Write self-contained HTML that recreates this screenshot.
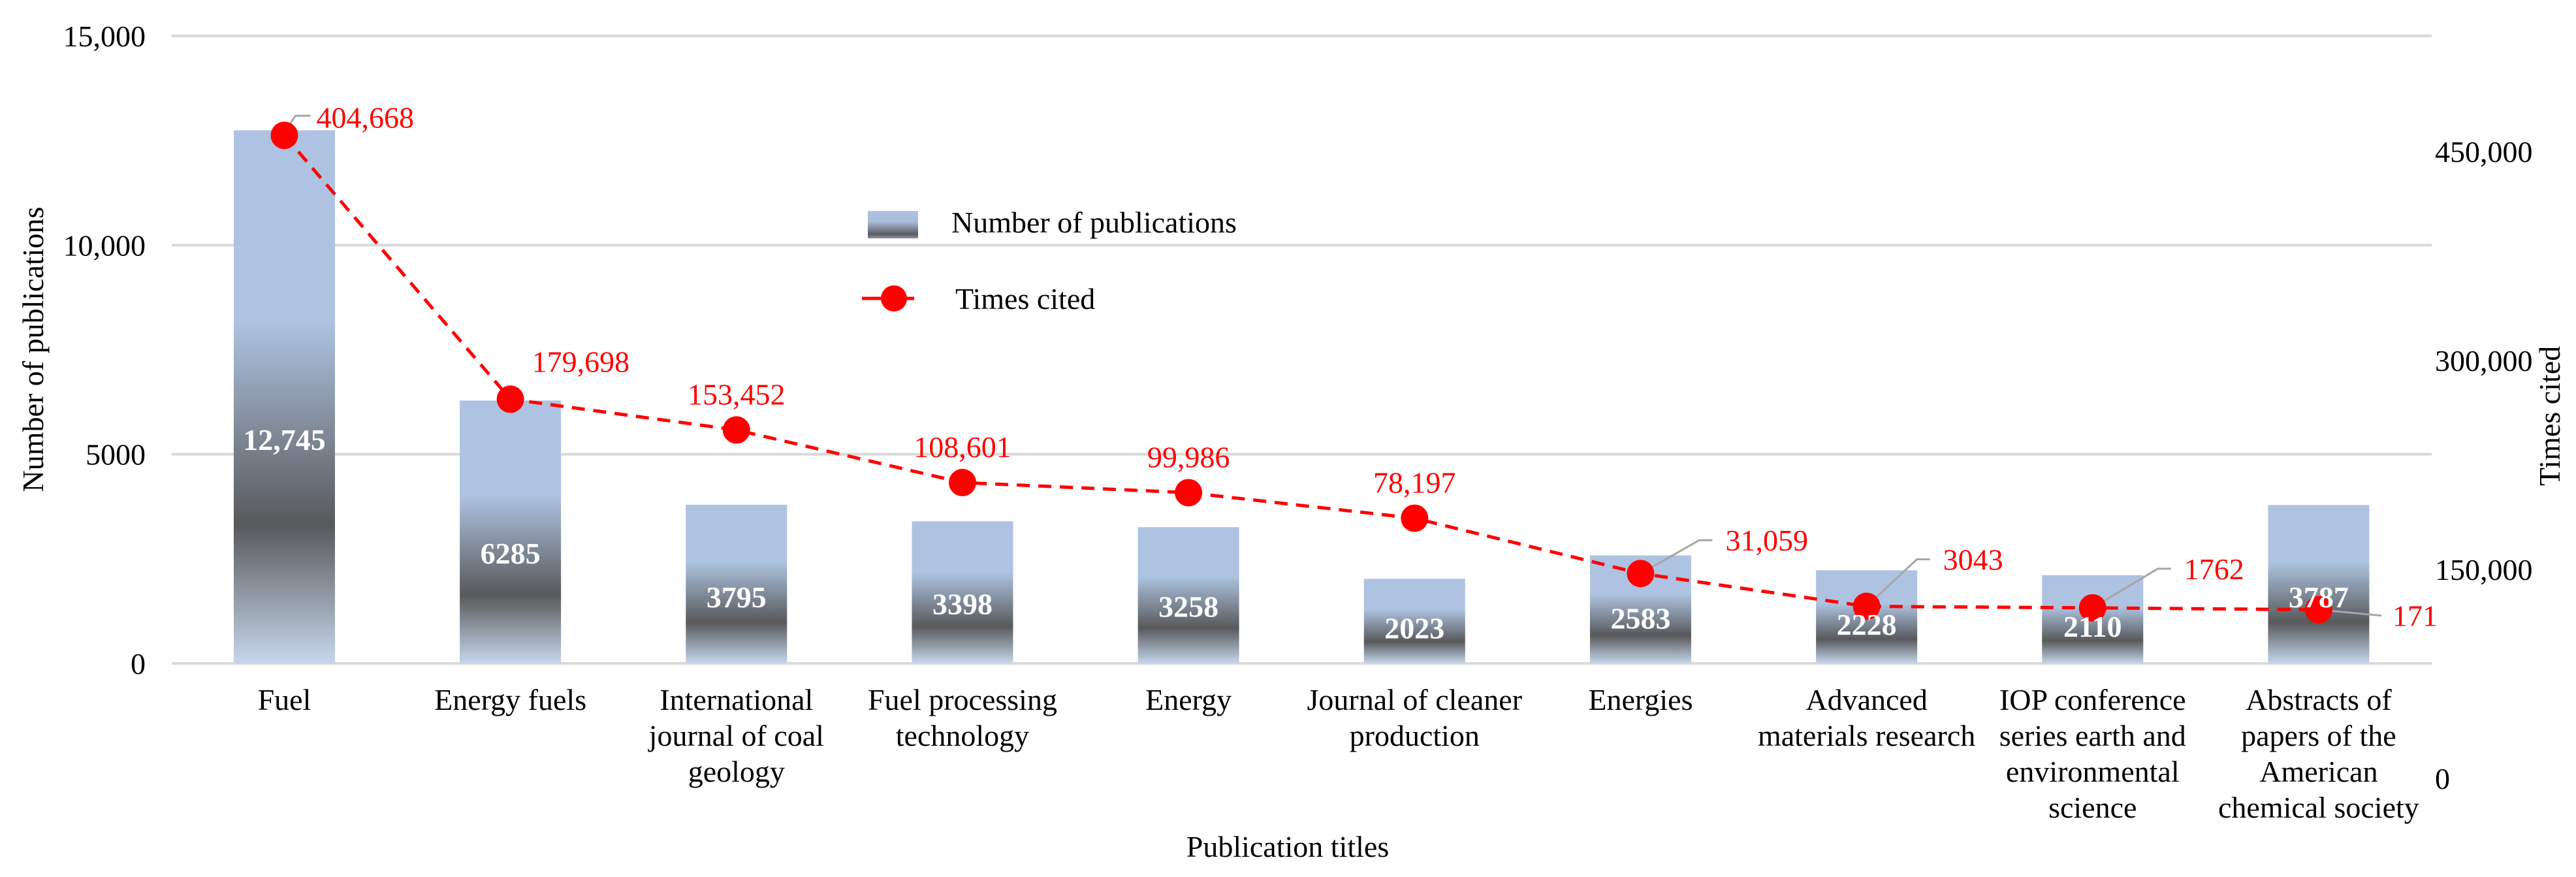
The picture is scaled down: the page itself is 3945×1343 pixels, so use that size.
<!DOCTYPE html>
<html><head><meta charset="utf-8">
<style>
html,body{margin:0;padding:0;background:#fff;}
svg{display:block;font-family:"Liberation Serif",serif;}
text{font-family:"Liberation Serif",serif;}
</style></head>
<body>
<svg id="chart" width="3945" height="1343" viewBox="0 0 3945 1343" xmlns="http://www.w3.org/2000/svg" font-family="Liberation Serif, serif">
<defs>
<linearGradient id="barGrad" x1="0" y1="0" x2="0" y2="1">
<stop offset="0" stop-color="#aec3e1"/>
<stop offset="0.36" stop-color="#aec3e1"/>
<stop offset="0.74" stop-color="#58595b"/>
<stop offset="1" stop-color="#c6d7ec"/>
</linearGradient>
<linearGradient id="legGrad" x1="0" y1="0" x2="0" y2="1">
<stop offset="0" stop-color="#aec3e1"/>
<stop offset="0.4" stop-color="#a9bcd8"/>
<stop offset="0.85" stop-color="#5a5c60"/>
<stop offset="1" stop-color="#8a96a6"/>
</linearGradient>
</defs>
<g id="grid"></g>
<g id="bars"></g>
<g id="line"></g>
<g id="labels"></g>

<text font-family="Liberation Serif, serif" x="0" y="0" transform="translate(66,535) rotate(-90)" text-anchor="middle" font-size="46" fill="#000">Number of publications</text>
<text font-family="Liberation Serif, serif" x="0" y="0" transform="translate(3920,637) rotate(-90)" text-anchor="middle" font-size="46" fill="#000">Times cited</text>
<text font-family="Liberation Serif, serif" x="1972" y="1312" text-anchor="middle" font-size="46" fill="#000">Publication titles</text>

<g>
<rect x="1329" y="323" width="77" height="42" fill="url(#legGrad)"/>
<text font-family="Liberation Serif, serif" x="1457" y="356" font-size="46" fill="#000">Number of publications</text>
<line x1="1320" y1="457" x2="1400" y2="457" stroke="#ff0000" stroke-width="5"/>
<circle cx="1369" cy="457" r="20" fill="#ff0000"/>
<text font-family="Liberation Serif, serif" x="1463" y="473" font-size="46" fill="#000">Times cited</text>
</g>
</svg>
<script>
const categories = [["Fuel"],["Energy fuels"],["International","journal of coal","geology"],["Fuel processing","technology"],["Energy"],["Journal of cleaner","production"],["Energies"],["Advanced","materials research"],["IOP conference","series earth and","environmental","science"],["Abstracts of","papers of the","American","chemical society"]];
const publications = [12745, 6285, 3795, 3398, 3258, 2023, 2583, 2228, 2110, 3787];
const pubLabels = ["12,745","6285","3795","3398","3258","2023","2583","2228","2110","3787"];
const timesCited = [404668, 179698, 153452, 108601, 99986, 78197, 31059, 3043, 1762, 171];
const citedLabels = ["404,668","179,698","153,452","108,601","99,986","78,197","31,059","3043","1762","171"];
const leftTicks = [0, 5000, 10000, 15000];
const leftTickLabels = ["0","5000","10,000","15,000"];
const rightTicks = [0, 150000, 300000, 450000];
const rightTickLabels = ["0","150,000","300,000","450,000"];

const NS = "http://www.w3.org/2000/svg";
const FF = "Liberation Serif, serif";
const plotL = 262.4, plotR = 3724, y0 = 1016, yTop = 55;
const band = (plotR - plotL) / categories.length;
const xC = i => plotL + band * (i + 0.5);
const yL = v => y0 - (v / 15000) * (y0 - yTop);
const yLine = v => 934 - v * 0.0017958;
const yRLab = v => 1192 - v / 150000 * 320;
function mk(tag, attrs, parent){const e=document.createElementNS(NS,tag);for(const k in attrs)e.setAttribute(k,attrs[k]);if(tag==='text')e.setAttribute('font-family',FF);parent.appendChild(e);return e;}
const grid=document.getElementById('grid'), bars=document.getElementById('bars'), line=document.getElementById('line'), labels=document.getElementById('labels');

leftTicks.forEach((t,i)=>{
  const g=mk('line',{x1:263,x2:plotR,y1:yL(t),y2:yL(t),stroke:'#d9d9d9','stroke-width':4},grid);
  
  
  const tx=mk('text',{x:223,y:yL(t)+16,'text-anchor':'end','font-size':46,fill:'#000'},labels);
  tx.textContent=leftTickLabels[i];
  
  
});
rightTicks.forEach((t,i)=>{
  const tx=mk('text',{x:3729,y:yRLab(t)+16,'font-size':46,fill:'#000'},labels);
  tx.textContent=rightTickLabels[i];
  
  
});

const bw=155;
publications.forEach((v,i)=>{
  const top=yL(v), h=y0-top;
  const r=mk('rect',{x:xC(i)-bw/2,y:top,width:bw,height:h,fill:'url(#barGrad)'},bars);
  
  
  const ly=y0-Math.max(50,0.42*h)+16;
  const t=mk('text',{x:xC(i),y:ly,'text-anchor':'middle','font-size':46,'font-weight':'bold',fill:'#fff'},labels);
  t.textContent=pubLabels[i];
  
  
  categories[i].forEach((ln,j)=>{
    const c=mk('text',{x:xC(i),y:1087+j*55,'text-anchor':'middle','font-size':46,fill:'#000'},labels);
    c.textContent=ln;
    
    
  });
});

const pts=timesCited.map((v,i)=>xC(i)+','+yLine(v)).join(' ');
const pl=mk('polyline',{points:pts,fill:'none',stroke:'#ff0000','stroke-width':5,'stroke-dasharray':'20 13'},line);



const labelStyle = ['l','r','c','c','c','c','l','l','l','l'];
timesCited.forEach((v,i)=>{
  const cx=xC(i), cy=yLine(v);
  let tx, ty, anchor='start';
  if(labelStyle[i]==='c'){tx=cx;ty=cy-55;anchor='middle';}
  else if(labelStyle[i]==='r'){tx=cx+33;ty=cy-58;}
  else if(i===0){tx=cx+49;ty=cy-28;
    mk('polyline',{points:`${cx},${cy-4} ${cx+17},${cy-30} ${cx+40},${cy-30}`,fill:'none',stroke:'#a6a6a6','stroke-width':3},line);}
  else if(i===9){tx=cx+113;ty=cy+9;
    mk('polyline',{points:`${cx},${cy} ${cx+96},${cy+9}`,fill:'none',stroke:'#a6a6a6','stroke-width':3},line);}
  else {const dx=i===6?110:(i===7?97:120), dy=i===6?-51:(i===7?-72:-60);
    tx=cx+dx+20;ty=cy+dy;
    mk('polyline',{points:`${cx},${cy} ${cx+dx-20},${cy+dy} ${cx+dx},${cy+dy}`,fill:'none',stroke:'#a6a6a6','stroke-width':3},line);}
  const t=mk('text',{x:tx,y:ty+16,'text-anchor':anchor,'font-size':46,fill:'#ff0000'},labels);
  t.textContent=citedLabels[i];
  
  
});
timesCited.forEach((v,i)=>{
  const c=mk('circle',{cx:xC(i),cy:yLine(v),r:21,fill:'#ff0000'},line);
  
  
});
</script>
</body></html>
